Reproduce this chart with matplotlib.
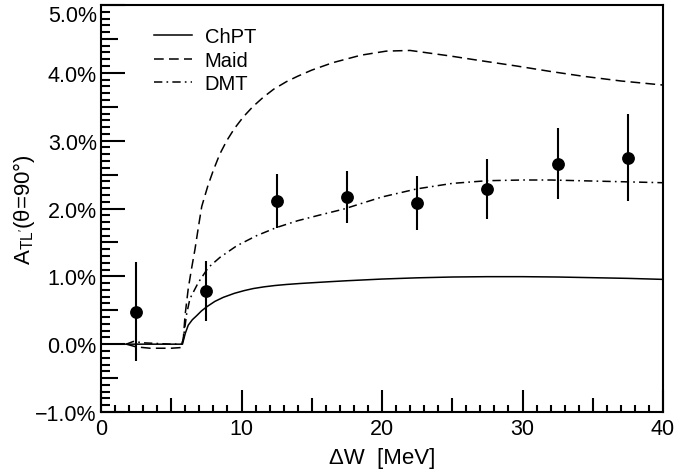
import matplotlib
matplotlib.use("Agg")
import matplotlib.pyplot as plt
from matplotlib.ticker import FuncFormatter, FixedLocator

# ---------------- data (values in %) ----------------
data_x = [2.5, 7.5, 12.5, 17.5, 22.5, 27.5, 32.5, 37.5]
data_y = [0.48, 0.78, 2.11, 2.17, 2.08, 2.29, 2.66, 2.75]
data_err = [0.73, 0.44, 0.40, 0.39, 0.40, 0.44, 0.52, 0.64]

chpt_x = [0, 5.8, 5.86, 6.0, 6.21, 6.5, 6.81, 7.15, 7.52, 8.1, 8.7, 9.5, 10.2, 10.84,
          11.6, 12.4, 13.2, 14.2, 15.0, 16.2, 17.5, 20.0, 22.5, 25.0, 27.5, 30.0,
          32.5, 35.0, 37.5, 40.0]
chpt_y = [0, 0, 0.05, 0.16, 0.28, 0.36, 0.42, 0.49, 0.55, 0.63, 0.69, 0.75, 0.79, 0.82,
          0.845, 0.865, 0.88, 0.895, 0.905, 0.92, 0.935, 0.96, 0.978, 0.99, 0.995, 0.995,
          0.99, 0.98, 0.97, 0.955]

maid_x = [1.8, 2.5, 3.5, 5.0, 5.7, 5.86, 5.98, 6.21, 6.45, 6.69, 6.95, 7.17, 7.6,
          7.99, 8.45, 8.95, 9.5, 10.13, 10.8, 11.55, 12.3, 13.2, 14.0, 15.0, 16.5,
          18.5, 20.3, 22.0, 24.8, 27.0, 29.6, 32.0, 34.3, 37.0, 40.0]
maid_y = [0.0, -0.04, -0.06, -0.06, -0.05, 0.08, 0.42, 0.82, 1.12, 1.40, 1.75, 2.03,
          2.33, 2.56, 2.80, 3.00, 3.18, 3.35, 3.50, 3.64, 3.76, 3.87, 3.95, 4.04, 4.15,
          4.26, 4.32, 4.33, 4.25, 4.18, 4.10, 4.02, 3.95, 3.88, 3.82]

dmt_x = [1.8, 2.3, 3.0, 5.0, 5.75, 5.86, 6.1, 6.33, 6.93, 7.64, 8.47, 9.66, 11.08,
         12.5, 14.0, 15.5, 17.25, 20.0, 22.5, 25.0, 27.5, 30.0, 32.0, 36.0, 40.0]
dmt_y = [0.0, 0.04, 0.02, 0.0, 0.0, 0.08, 0.45, 0.67, 0.91, 1.13, 1.28, 1.45, 1.60,
         1.72, 1.82, 1.90, 1.99, 2.17, 2.29, 2.37, 2.41, 2.42, 2.42, 2.40, 2.38]

labels = ["ChPT", "Maid", "DMT"]
y_ticks = [-1.0, 0.0, 1.0, 2.0, 3.0, 4.0, 5.0]
x_ticks = [0, 10, 20, 30, 40]

# ---------------- style ----------------
plt.rcParams['font.family'] = ['Liberation Sans', 'DejaVu Sans']
plt.rcParams['mathtext.fontset'] = 'custom'
plt.rcParams['mathtext.rm'] = 'Liberation Sans'
plt.rcParams['mathtext.it'] = 'Liberation Sans:italic'
plt.rcParams['lines.scale_dashes'] = False

fig = plt.figure(figsize=(7.0, 4.77), dpi=100)
ax = fig.add_axes([101/700, 1-413/477, 562/700, 407/477])

lw = 1.1
ax.plot(chpt_x, chpt_y, color='black', lw=lw, ls='-', label=labels[0])
ax.plot(maid_x, maid_y, color='black', lw=lw, ls=(0, (7.0, 3.8)), label=labels[1])
ax.plot(dmt_x, dmt_y, color='black', lw=lw, ls=(0, (6.0, 3.0, 1.2, 3.0)), label=labels[2])

ax.errorbar(data_x, data_y, yerr=data_err, fmt='o', color='black', ms=8.2,
            elinewidth=1.5, capsize=0, zorder=5)

ax.set_xlim(0, 40)
ax.set_ylim(-1.0, 5.0)

for s in ax.spines.values():
    s.set_linewidth(1.5)

# ticks
ax.set_xticks(x_ticks)
ax.xaxis.set_minor_locator(FixedLocator([v for v in range(0, 41) if v % 5 != 0]))
ax.set_yticks(y_ticks)
ax.yaxis.set_minor_locator(FixedLocator([i/10 for i in range(-10, 51) if i % 5 != 0]))

ax.yaxis.set_major_formatter(FuncFormatter(lambda v, p: ("%.1f%%" % v).replace('-', '\u2212')))

ax.tick_params(axis='both', which='both', direction='in', top=False, right=False,
               labelsize=15.5, width=1.5, colors='black')
ax.tick_params(axis='x', which='major', length=16, pad=4)
ax.tick_params(axis='x', which='minor', length=5)
ax.tick_params(axis='y', which='major', length=17, pad=3)
ax.tick_params(axis='y', which='minor', length=6.5)

# top label kept inside the figure
ax.yaxis.get_major_ticks()[-1].label1.set_verticalalignment('top')

# medium ticks at the half divisions
secx = ax.secondary_xaxis('bottom')
secx.set_xticks([5, 15, 25, 35])
secx.set_xticklabels([])
secx.tick_params(direction='in', length=10, width=1.5)
secx.spines['bottom'].set_visible(False)
secy = ax.secondary_yaxis('left')
secy.set_yticks([-0.5, 0.5, 1.5, 2.5, 3.5, 4.5])
secy.set_yticklabels([])
secy.tick_params(direction='in', length=12, width=1.5)
secy.spines['left'].set_visible(False)

ax.set_xlabel("\u0394W  [MeV]", fontsize=16)
ax.xaxis.set_label_coords(0.5, -0.085)
ax.set_ylabel("A$_{\\mathrm{TL'}}$(\u03b8=90\u00b0)", fontsize=16)
ax.yaxis.set_label_coords(-0.114, 0.5)

leg = ax.legend(loc='upper left', bbox_to_anchor=(0.095, 0.945), frameon=False,
                fontsize=14.5, handlelength=1.85, handletextpad=0.65,
                labelspacing=0.22, borderpad=0, borderaxespad=0)

fig.savefig("out.png", dpi=100)
